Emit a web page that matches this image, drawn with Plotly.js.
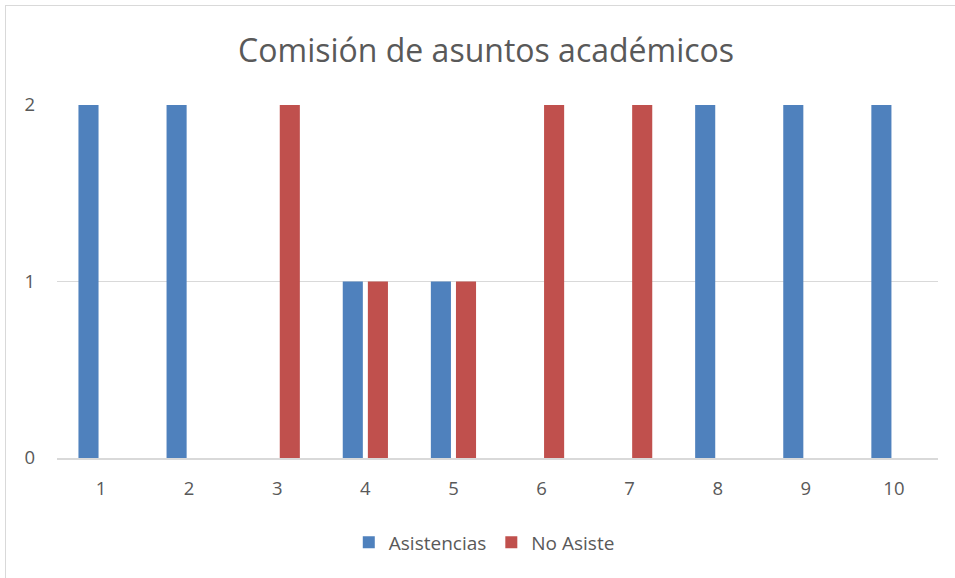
<!DOCTYPE html>
<html>
<head>
<meta charset="utf-8">
<script src="https://cdn.plot.ly/plotly-3.0.1.min.js"></script>
<style>
html,body{margin:0;padding:0;background:#fff;}
#wrap{position:relative;width:955px;height:578px;overflow:hidden;}
#chart{position:absolute;left:0;top:0;width:955px;height:578px;}
#frame{position:absolute;left:5px;top:5px;width:960px;height:600px;border-top:1px solid #d9d9d9;border-left:1px solid #d9d9d9;pointer-events:none;}
</style>
</head>
<body>
<div id="wrap"><div id="chart"></div><div id="frame"></div></div>
<script>
const categories = ['1','2','3','4','5','6','7','8','9','10'];
const asistencias = [2,2,0,1,1,0,0,2,2,2];
const noAsiste = [0,0,2,1,1,2,2,0,0,0];
const yTicks = [0,1,2];

const font = {family:'"Open Sans", "Noto Sans", sans-serif', color:'#595959'};

const data = [
  {type:'bar', name:'Asistencias', x:categories, y:asistencias, marker:{color:'#4F81BD'}},
  {type:'bar', name:'No Asiste', x:categories, y:noAsiste, marker:{color:'#C0504D'}}
];

const layout = {
  width:955, height:578,
  margin:{l:57, r:17, t:105, b:119.5},
  paper_bgcolor:'#fff', plot_bgcolor:'#fff',
  font:Object.assign({size:18}, font),
  title:{text:'Comisión de asuntos académicos', font:Object.assign({size:32}, font), x:0.509, xanchor:'center', y:0.912, yanchor:'middle'},
  barmode:'group', bargap:0.43, bargroupgap:0.2,
  xaxis:{type:'category', showgrid:false, zeroline:false, showline:true, linecolor:'#d9d9d9', linewidth:1.5, ticks:'', ticklabelstandoff:13, tickfont:Object.assign({size:18.5}, font), fixedrange:true},
  yaxis:{range:[0,2], tickvals:yTicks, showgrid:true, gridcolor:'#d9d9d9', gridwidth:1, zeroline:false, showline:false, ticks:'', ticklabelstandoff:21, tickfont:Object.assign({size:18.5}, font), fixedrange:true},
  showlegend:true,
  legend:{orientation:'h', x:0.485, xanchor:'center', y:-0.239, yanchor:'middle', font:Object.assign({size:19}, font), itemwidth:20, traceorder:'normal'}
};

Plotly.newPlot('chart', data, layout, {displayModeBar:false, staticPlot:true});
</script>
</body>
</html>
